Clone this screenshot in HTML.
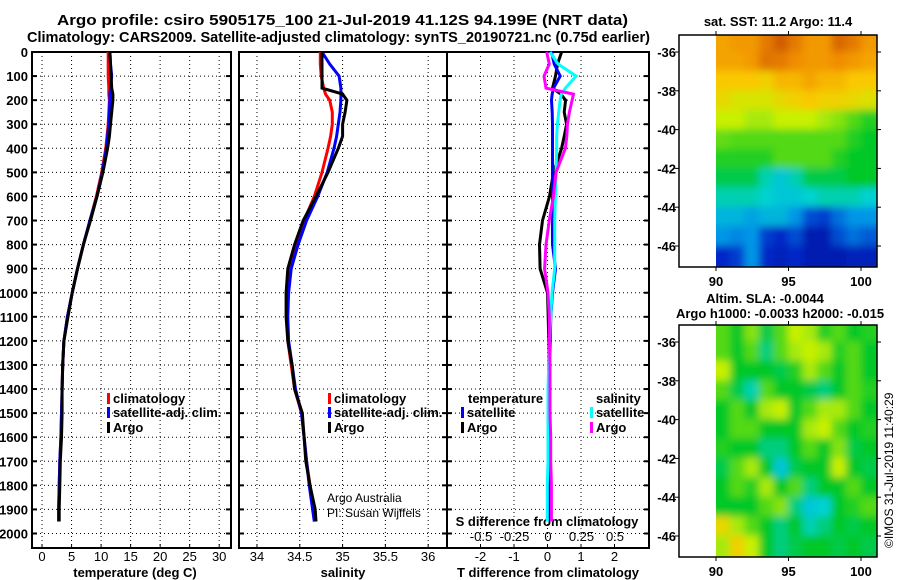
<!DOCTYPE html>
<html><head><meta charset="utf-8"><style>
body{margin:0;background:#fff}
svg{display:block;font-family:"Liberation Sans",Arial,sans-serif}
text{font-size:13px;font-weight:bold;fill:#000}
text.big{font-size:15px}
</style></head><body>
<svg id="c" width="900" height="580" viewBox="0 0 900 580">
<defs><filter id="bl" x="-5%" y="-5%" width="110%" height="110%"><feGaussianBlur stdDeviation="4"/></filter></defs>
<text class="big" x="57" y="25" textLength="571" lengthAdjust="spacingAndGlyphs">Argo profile: csiro 5905175_100 21-Jul-2019 41.12S 94.199E (NRT data)</text>
<text class="big" x="27" y="42" textLength="623" lengthAdjust="spacingAndGlyphs">Climatology: CARS2009. Satellite-adjusted climatology: synTS_20190721.nc (0.75d earlier)</text>
<text x="778" y="26" text-anchor="middle">sat. SST: 11.2 Argo: 11.4</text>
<text x="765" y="303" text-anchor="middle">Altim. SLA: -0.0044</text>
<text x="780" y="318" text-anchor="middle">Argo h1000: -0.0033 h2000: -0.015</text>
<text transform="translate(893,548) rotate(-90)" style="font-weight:normal;font-size:12px">©IMOS 31-Jul-2019 11:40:29</text>
</svg>
<script>
// ---- data ----
const depths=[0,50,100,150,175,200,250,300,350,400,500,600,700,800,900,1000,1100,1200,1300,1400,1500,1600,1700,1800,1900,1950];
const tArgo=[11.5,11.6,11.7,11.8,12.0,12.0,11.8,11.6,11.4,11.1,10.3,9.3,8.2,7.0,6.0,5.1,4.4,3.7,3.5,3.4,3.4,3.3,3.1,3.0,2.9,2.9];
const tClim=[11.2,11.2,11.2,11.3,11.3,11.4,11.3,11.2,11.0,10.8,10.1,9.2,8.1,7.0,6.0,5.1,4.3,3.7,3.5,3.4,3.3,3.2,3.0,2.9,2.8,2.8];
const tSat=[11.5,11.6,11.8,11.6,11.5,11.5,11.4,11.3,11.1,10.9,10.2,9.3,8.1,7.0,6.0,5.1,4.3,3.7,3.5,3.4,3.3,3.2,3.0,2.9,2.8,2.8];
const sArgo=[34.76,34.76,34.76,34.76,35.0,35.05,35.03,35.0,35.0,34.95,34.83,34.69,34.54,34.44,34.36,34.34,34.34,34.36,34.41,34.44,34.53,34.55,34.57,34.62,34.68,34.69];
const sClim=[34.74,34.74,34.75,34.78,34.80,34.85,34.88,34.88,34.86,34.83,34.76,34.67,34.55,34.45,34.38,34.35,34.35,34.36,34.40,34.44,34.52,34.55,34.58,34.62,34.66,34.68];
const sSat=[34.76,34.85,34.96,34.98,34.98,34.98,34.97,34.95,34.93,34.90,34.82,34.71,34.58,34.48,34.40,34.37,34.36,34.37,34.41,34.45,34.52,34.55,34.58,34.61,34.65,34.67];
const dTArgo=[0.42,0.3,0.24,0.15,0.4,0.54,0.5,0.57,0.5,0.42,0.18,0.06,-0.15,-0.24,-0.22,0,0.02,0.04,0.04,0.04,0.06,0.06,0.04,0.04,0.04,0.04];
const dTSat=[0.12,0.2,0.38,0.18,0.14,0.12,0.14,0.15,0.15,0.15,0.15,0.15,0.15,0.15,0.24,0.15,0.1,0.08,0.06,0.04,0.04,0.04,0.03,0.03,0.02,0.02];
const dSArgo=[-0.01,0.01,-0.03,-0.015,0.19,0.18,0.16,0.145,0.14,0.13,0.06,0.04,0.01,-0.015,-0.025,0,0.01,0.01,0.015,0.015,0.015,0.02,0.02,0.025,0.025,0.025];
const dSSat=[0.015,0.075,0.21,0.13,0.1,0.09,0.08,0.07,0.065,0.065,0.06,0.055,0.05,0.05,0.05,0.03,0.02,0.01,0.005,0,0,0,0,-0.005,-0.005,-0.005];
const tTicks=[0,5,10,15,20,25,30];
const sTicks=[34,34.5,35,35.5,36];
const dTTicks=[-2,-1,0,1,2];
const dSTicks=[-0.5,-0.25,0,0.25,0.5];
const depthTicks=[0,100,200,300,400,500,600,700,800,900,1000,1100,1200,1300,1400,1500,1600,1700,1800,1900,2000];
const lonTicks=[90,95,100];
const latTicks=[-36,-38,-40,-42,-44,-46];
const sstGrid=[
[0.78,0.8,0.8,0.85,0.9,0.85,0.8,0.8,0.88,0.85,0.8],
[0.78,0.78,0.8,0.86,0.85,0.82,0.8,0.8,0.82,0.8,0.78],
[0.72,0.72,0.72,0.7,0.75,0.75,0.78,0.75,0.75,0.72,0.72],
[0.68,0.65,0.65,0.65,0.68,0.7,0.72,0.7,0.7,0.68,0.66],
[0.62,0.62,0.6,0.6,0.62,0.62,0.62,0.6,0.58,0.55,0.52],
[0.56,0.55,0.55,0.55,0.55,0.55,0.55,0.55,0.55,0.52,0.5],
[0.52,0.52,0.52,0.52,0.55,0.55,0.55,0.55,0.52,0.5,0.5],
[0.48,0.48,0.48,0.42,0.38,0.42,0.48,0.48,0.48,0.5,0.5],
[0.42,0.42,0.42,0.4,0.38,0.38,0.4,0.42,0.42,0.42,0.4],
[0.35,0.35,0.32,0.35,0.35,0.3,0.2,0.18,0.25,0.3,0.3],
[0.3,0.28,0.3,0.18,0.15,0.2,0.1,0.1,0.2,0.25,0.22],
[0.15,0.18,0.3,0.15,0.12,0.15,0.1,0.1,0.1,0.12,0.12]];
const slaGrid=[
[0.55,0.5,0.58,0.48,0.55,0.62,0.6,0.52,0.55,0.5,0.52],
[0.55,0.5,0.55,0.45,0.55,0.6,0.62,0.6,0.52,0.55,0.5],
[0.62,0.5,0.5,0.5,0.48,0.52,0.6,0.55,0.5,0.55,0.5],
[0.55,0.48,0.42,0.55,0.5,0.5,0.48,0.45,0.5,0.55,0.52],
[0.5,0.55,0.5,0.6,0.62,0.5,0.55,0.6,0.6,0.55,0.5],
[0.5,0.55,0.55,0.5,0.5,0.5,0.6,0.62,0.55,0.5,0.52],
[0.52,0.5,0.5,0.45,0.45,0.5,0.55,0.5,0.58,0.48,0.5],
[0.48,0.55,0.6,0.5,0.38,0.48,0.5,0.5,0.62,0.5,0.48],
[0.5,0.55,0.52,0.6,0.5,0.55,0.45,0.5,0.5,0.55,0.5],
[0.5,0.5,0.5,0.55,0.58,0.45,0.38,0.4,0.5,0.52,0.55],
[0.68,0.6,0.55,0.5,0.45,0.5,0.42,0.45,0.5,0.48,0.5],
[0.6,0.7,0.62,0.5,0.45,0.48,0.5,0.5,0.48,0.5,0.48]];

const NS="http://www.w3.org/2000/svg";
const svg=document.getElementById('c');
function el(t,a,p){const e=document.createElementNS(NS,t);for(const k in a)e.setAttribute(k,a[k]);(p||svg).appendChild(e);return e;}
const yTop=52,yBot=548;
function yD(d){return yTop+d*(481.5/2000);}
const panels=[
 {x0:32,x1:231,v0:-1.7,v1:32,name:'temperature-panel'},
 {x0:239,x1:447,v0:33.79,v1:36.22,name:'salinity-panel'},
 {x0:447,x1:649,v0:-3.0,v1:3.03,name:'difference-panel'}];
function sx(p,v){return p.x0+(v-p.v0)/(p.v1-p.v0)*(p.x1-p.x0);}
function sxS(v){return 548+v*134;}

panels.forEach((p,i)=>{
 const g=el('g',{});
 
 
 const ticks=i==0?tTicks:i==1?sTicks:dTTicks;
 ticks.forEach(t=>{const x=sx(p,t);
  const l=el('line',{x1:x,x2:x,y1:yTop,y2:yBot,stroke:'#000','stroke-dasharray':'1,3','stroke-width':1},g);
  
  const tx=el('text',{x:x,y:561,'text-anchor':'middle',style:'font-weight:normal'},g);tx.textContent=t;
  
  el('line',{x1:x,x2:x,y1:yBot,y2:yBot-4,stroke:'#000'},g);
 });
 depthTicks.forEach(d=>{const y=yD(d);
  const l=el('line',{x1:p.x0,x2:p.x1,y1:y,y2:y,stroke:'#000','stroke-dasharray':'1,3'},g);
  
  el('line',{x1:p.x0,x2:p.x0+5,y1:y,y2:y,stroke:'#000','stroke-width':2},g);
  el('line',{x1:p.x1,x2:p.x1-5,y1:y,y2:y,stroke:'#000','stroke-width':2},g);
  if(i==0){const tx=el('text',{x:28,y:y+5,'text-anchor':'end'},g);tx.textContent=d;
   }
 });
 const r=el('rect',{x:p.x0,y:yTop,width:p.x1-p.x0,height:yBot-yTop,fill:'none',stroke:'#000','stroke-width':2},g);
 
});
const xl=[['temperature (deg C)',135],['salinity',343],['T difference from climatology',548]];
xl.forEach(a=>{const t=el('text',{x:a[1],y:577,'text-anchor':'middle'});t.textContent=a[0];
 });
dSTicks.forEach(t=>{const tx=el('text',{x:sxS(t),y:541,'text-anchor':'middle',style:'font-weight:normal'});tx.textContent=t;
 });
{const t=el('text',{x:547,y:526,'text-anchor':'middle'});t.textContent='S difference from climatology';
 }

function line(vals,fx,color,name){
 let pts=[];
 vals.forEach((v,k)=>{pts.push(fx(v).toFixed(1)+','+yD(depths[k]).toFixed(1));});
 const pl=el('polyline',{points:pts.join(' '),fill:'none',stroke:color,'stroke-width':3,'stroke-linejoin':'miter'});
 
}
line(tClim,v=>sx(panels[0],v),'#f00','temp-climatology-line');
line(tSat,v=>sx(panels[0],v),'#00f','temp-satellite-line');
line(tArgo,v=>sx(panels[0],v),'#000','temp-argo-line');
line(sClim,v=>sx(panels[1],v),'#f00','sal-climatology-line');
line(sSat,v=>sx(panels[1],v),'#00f','sal-satellite-line');
line(sArgo,v=>sx(panels[1],v),'#000','sal-argo-line');
line(dTArgo,v=>sx(panels[2],v),'#000','tdiff-argo-line');
line(dTSat,v=>sx(panels[2],v),'#00f','tdiff-satellite-line');
line(dSSat,sxS,'#0ff','sdiff-satellite-line');
line(dSArgo,sxS,'#f0f','sdiff-argo-line');

function leg(x,y,color,label){
 const g=el('g',{});
 
 el('rect',{x:x,y:y-10,width:3,height:11,fill:color},g);
 const t=el('text',{x:x+6,y:y},g);t.textContent=label;
}
leg(107,403,'#f00','climatology');leg(107,417,'#00f','satellite-adj. clim.');leg(107,432,'#000','Argo');
leg(328,403,'#f00','climatology');leg(328,417,'#00f','satellite-adj. clim.');leg(328,432,'#000','Argo');
{const t=el('text',{x:468,y:403});t.textContent='temperature';
 const u=el('text',{x:596,y:403});u.textContent='salinity';}
leg(461,417,'#00f','satellite');leg(461,432,'#000','Argo');
leg(590,417,'#0ff','satellite');leg(590,432,'#f0f','Argo');
[['Argo Australia',502],['PI: Susan Wijffels',517]].forEach(a=>{const t=el('text',{x:327,y:a[1],style:'font-weight:normal;font-size:12px'});t.textContent=a[0];
 });

// ---- maps ----
function jet(v){
 const stops=[[0,[0,0,130]],[0.15,[0,40,200]],[0.3,[0,150,230]],[0.4,[0,210,210]],[0.5,[0,200,40]],[0.62,[200,240,0]],[0.72,[250,200,0]],[0.82,[240,140,0]],[0.92,[200,80,0]],[1,[150,20,0]]];
 for(let i=1;i<stops.length;i++){if(v<=stops[i][0]){const a=stops[i-1],b=stops[i],f=(v-a[0])/(b[0]-a[0]);
  return 'rgb('+a[1].map((c,j)=>Math.round(c+(b[1][j]-c)*f)).join(',')+')';}}
 return 'rgb(150,20,0)';
}
function map(top,grid,name){
 const x0=679,x1=877,bot=top+232;
 const lx=v=>716+(v-90)*14.5;
 const ly=v=>top+17+(-36-v)*19.4;
 const g=el('g',{});
 
 const clip=el('clipPath',{id:'cl'+top},g);el('rect',{x:716,y:top,width:x1-716,height:bot-top},clip);
 const cg=el('g',{'clip-path':'url(#cl'+top+')'},g);
 const bg=el('g',{filter:'url(#bl)'},cg);
 grid.forEach((row,r)=>row.forEach((v,c)=>{
  const ex=(c==0?8:0),ey=(r==0?8:0),eb=(r==grid.length-1?8:0);
  const cell=el('rect',{x:lx(90+c)-0.5-ex,y:ly(-35-r)-0.5-ey,width:15.5+ex+(c==row.length-1?8:0),height:20.4+ey+eb,fill:jet(v)},bg);
  
 }));
 el('rect',{x:x0,y:top,width:x1-x0,height:bot-top,fill:'none',stroke:'#000','stroke-width':1.5},g);
 lonTicks.forEach(v=>{const x=lx(v);el('line',{x1:x,x2:x,y1:bot,y2:bot+4,stroke:'#000'},g);el('line',{x1:x,x2:x,y1:top,y2:top-4,stroke:'#000'},g);
  const t=el('text',{x:x,y:bot+19,'text-anchor':'middle'},g);t.textContent=v;
  });
 latTicks.forEach(v=>{const y=ly(v);el('line',{x1:x0,x2:x0-4,y1:y,y2:y,stroke:'#000'},g);el('line',{x1:x1,x2:x1+4,y1:y,y2:y,stroke:'#000'},g);
  const t=el('text',{x:x0-3,y:y+5,'text-anchor':'end'},g);t.textContent=v;
  });
}
map(35,sstGrid,'sst-map');
map(325,slaGrid,'sla-map');
</script>
</body></html>
